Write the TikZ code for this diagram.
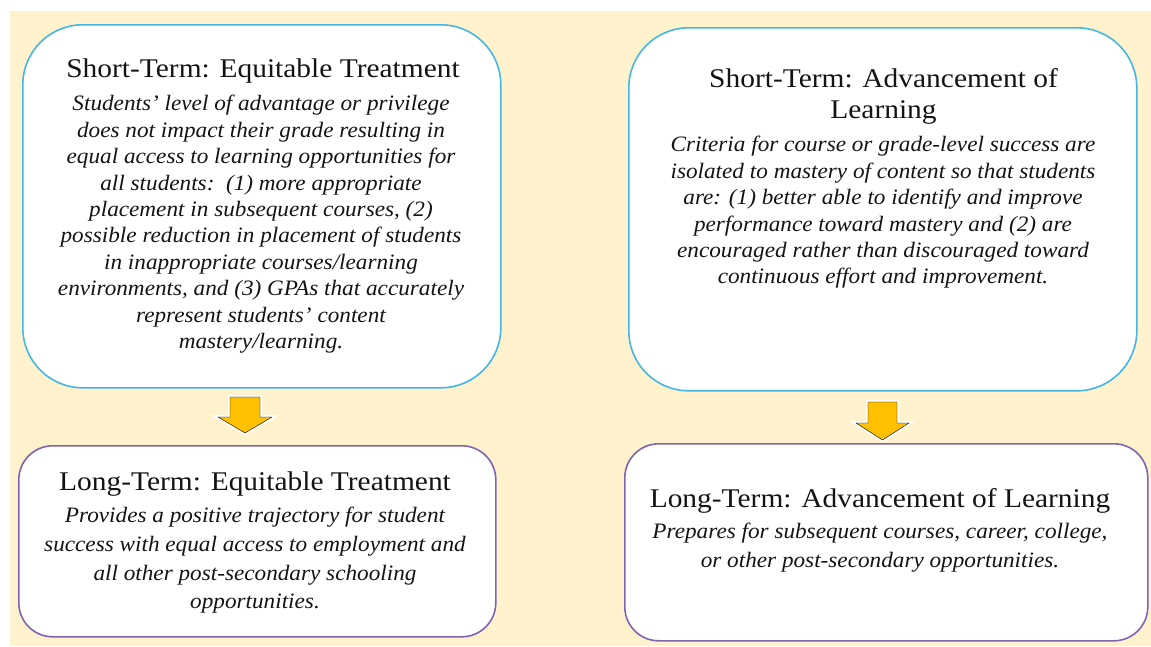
\documentclass[tikz,border=0pt]{standalone}
\usepackage{fontspec}
\setmainfont{Liberation Serif}
\newfontfamily\titlefont[FakeStretch=1.09]{Liberation Serif}
\newfontfamily\bodyfont[FakeStretch=1.055]{Liberation Serif}
\definecolor{beige}{HTML}{FFF2CC}
\definecolor{cyanB}{HTML}{45B6E6}
\definecolor{purpB}{HTML}{8064B4}
\definecolor{gold}{HTML}{FFC000}
\definecolor{ink}{HTML}{141414}
\begin{document}
\begin{tikzpicture}[x=1pt,y=-1pt,
  stbox/.style={draw=cyanB, line width=1.6pt, fill=white, rounded corners=60pt, inner sep=0pt, anchor=north west},
  ltbox/.style={draw=purpB, line width=1.6pt, fill=white, rounded corners=34pt, inner sep=0pt, anchor=north west},
  ttl/.style={font=\titlefont\fontsize{27}{31}\selectfont, text=ink, align=center, inner sep=0pt, anchor=north},
  bdy/.style={font=\bodyfont\itshape\fontsize{22}{26.4}\selectfont, text=ink, align=center, inner sep=0pt, anchor=north},
  bdyl/.style={bdy, font=\bodyfont\itshape\fontsize{22}{28.9}\selectfont},
  downarrow/.style={fill=gold, preaction={draw=white, line width=4pt, line join=miter}}]
\useasboundingbox (0,0) rectangle (1151,646);
\fill[white] (0,0) rectangle (1151,646);
\fill[beige] (10,11) rectangle (1151,646);
% boxes
\node[stbox, minimum width=478pt, minimum height=363pt] (st1) at (22,24) {};
\node[stbox, minimum width=508pt, minimum height=363pt] (st2) at (628,27) {};
\node[ltbox, minimum width=477pt, minimum height=191pt] (lt1) at (18,445) {};
\node[ltbox, minimum width=523pt, minimum height=197pt] (lt2) at (624,443) {};
% arrows
\draw[downarrow] (230,397) -- (260,397) -- (260,417) -- (272,417) -- (245,433) -- (218,417) -- (230,417) -- cycle;
\draw[downarrow] (868,402) -- (897,402) -- (897,423) -- (909,423) -- (882.5,440) -- (856,423) -- (868,423) -- cycle;
% texts
\node[ttl] (t1) at (263,{77-21.7}) {\strut Short-Term: Equitable Treatment};
\node[bdy] (b1) at (261,{110.7-18.48}) {\strut Students’ level of advantage or privilege\\
does not impact their grade resulting in\\
equal access to learning opportunities for\\
all students:\ \ (1) more appropriate\\
placement in subsequent courses, (2)\\
possible reduction in placement of students\\
in inappropriate courses/learning\\
environments, and (3) GPAs that accurately\\
represent students’ content\\
mastery/learning.};
\node[ttl] (t2) at (883.5,{87-21.7}) {\strut Short-Term: Advancement of\\Learning};
\node[bdy] (b2) at (883,{151.7-18.48}) {\strut Criteria for course or grade-level success are\\
isolated to mastery of content so that students\\
are: (1) better able to identify and improve\\
performance toward mastery and (2) are\\
encouraged rather than discouraged toward\\
continuous effort and improvement.};
\node[ttl] (t3) at (255,{490-21.7}) {\strut Long-Term: Equitable Treatment};
\node[bdyl] (b3) at (255,{522-20.23}) {\strut Provides a positive trajectory for student\\
success with equal access to employment and\\
all other post-secondary schooling\\
opportunities.};
\node[ttl] (t4) at (880,{507-21.7}) {\strut Long-Term: Advancement of Learning};
\node[bdyl] (b4) at (880,{538-20.23}) {\strut Prepares for subsequent courses, career, college,\\
or other post-secondary opportunities.};
\end{tikzpicture}
\end{document}
